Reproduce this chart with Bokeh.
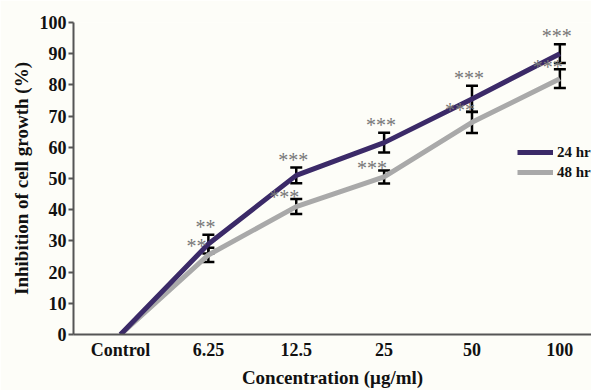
from bokeh.plotting import figure
from bokeh.models import (ColumnDataSource, Whisker, TeeHead, FixedTicker, Legend,
                          LegendItem, Range1d)
from bokeh.core.properties import value
from bokeh.embed import file_html
from bokeh.resources import INLINE

categories = ["Control", "6.25", "12.5", "25", "50", "100"]
inhib_24 = [0, 29, 51, 61.5, 75.5, 90]
err_24 = [0, 3, 2.5, 3.2, 4.2, 3]
inhib_48 = [0, 25.5, 41, 50.5, 68, 82]
err_48 = [0, 2.3, 2.4, 2.1, 3.4, 3]
stars_24 = ["", "**", "***", "***", "***", "***"]
stars_48 = ["", "**", "***", "***", "***", "***"]
y_ticks = [0, 10, 20, 30, 40, 50, 60, 70, 80, 90, 100]

FONT = "Liberation Serif"
BG = "#fdfdf8"
C24 = "#3b2a68"
C48 = "#a9a9a9"

xs = list(range(len(categories)))

p = figure(width=591, height=390, output_backend="svg", toolbar_location=None,
           x_range=Range1d(-0.535, 5.36), y_range=Range1d(0, 100),
           min_border_left=73, min_border_right=0, min_border_top=22, min_border_bottom=56,
           background_fill_color=BG, border_fill_color=BG)
p.outline_line_color = None
p.xgrid.visible = False
p.ygrid.visible = False

src24 = ColumnDataSource(dict(x=xs, y=inhib_24))
src48 = ColumnDataSource(dict(x=xs, y=inhib_48))
r48 = p.line("x", "y", source=src48, line_color=C48, line_width=5)
r24 = p.line("x", "y", source=src24, line_color=C24, line_width=5)

def whisk(vals, errs):
    idx = [i for i in xs if errs[i] > 0]
    s = ColumnDataSource(dict(x=[xs[i] for i in idx],
                              upper=[vals[i] + errs[i] for i in idx],
                              lower=[vals[i] - errs[i] for i in idx]))
    w = Whisker(base="x", upper="upper", lower="lower", source=s,
                line_color="black", line_width=2.5,
                upper_head=TeeHead(size=12, line_width=2.5, line_color="black"),
                lower_head=TeeHead(size=12, line_width=2.5, line_color="black"))
    p.add_layout(w)

whisk(inhib_48, err_48)
whisk(inhib_24, err_24)

def stars(vals, errs, labels, xoff, yoff):
    s = ColumnDataSource(dict(x=xs, y=[v + e for v, e in zip(vals, errs)], t=labels))
    p.text("x", "y", text="t", source=s, text_font=value(FONT), text_font_size="20px",
           text_color="#777777", text_align="center", text_baseline="middle",
           x_offset=xoff, y_offset=yoff)

stars(inhib_24, err_24, stars_24, -3, -8)
stars(inhib_48, err_48, stars_48, -12, -2)

p.xaxis.ticker = FixedTicker(ticks=xs)
p.xaxis.major_label_overrides = {i: c for i, c in enumerate(categories)}
p.yaxis.ticker = FixedTicker(ticks=y_ticks)
p.xaxis.minor_tick_line_color = None
p.yaxis.minor_tick_line_color = None
p.xaxis.major_tick_line_color = None
p.xaxis.major_tick_in = 0
p.xaxis.major_tick_out = 0
p.xaxis.minor_tick_out = 0
p.yaxis.minor_tick_out = 0
p.yaxis.major_tick_line_color = "#555555"
p.yaxis.major_tick_line_width = 2
p.yaxis.major_tick_in = 0
p.yaxis.major_tick_out = 5
for ax in (p.xaxis, p.yaxis):
    ax.axis_line_color = "#555555"
    ax.axis_line_width = 2
    ax.major_label_text_font = FONT
    ax.major_label_text_font_style = "bold"
    ax.major_label_text_font_size = "18px"
    ax.major_label_text_color = "#111111"
    ax.axis_label_text_font = FONT
    ax.axis_label_text_font_style = "bold"
    ax.axis_label_text_font_size = "19px"
    ax.axis_label_text_color = "#111111"
p.xaxis.major_label_standoff = 5
p.yaxis.major_label_standoff = 2
p.xaxis.axis_label = "Concentration (μg/ml)"
p.yaxis.axis_label = "Inhibition of cell growth (%)"
p.xaxis.axis_label_standoff = 4
p.yaxis.axis_label_standoff = 5

legend = Legend(items=[LegendItem(label="24 hr", renderers=[r24]),
                       LegendItem(label="48 hr", renderers=[r48])],
                location=(444, 153), orientation="vertical",
                background_fill_alpha=0, border_line_color=None,
                padding=0, margin=0, spacing=2, glyph_width=36, glyph_height=18,
                label_height=18, label_standoff=4,
                label_text_font=FONT, label_text_font_style="bold",
                label_text_font_size="15px", label_text_color="#111111")
p.add_layout(legend)

open("out.html", "w").write(file_html(p, INLINE))
